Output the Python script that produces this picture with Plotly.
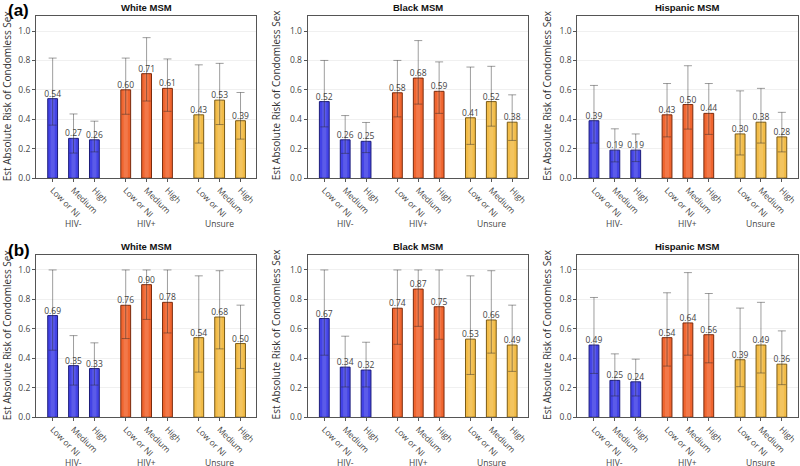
import plotly.graph_objects as go

# ---------------- data ----------------
levels = ["Low or NI", "Medium", "High"]
groups = ["HIV-", "HIV+", "Unsure"]
races = ["White MSM", "Black MSM", "Hispanic MSM"]
panels = ["(a)", "(b)"]

# panel (a)
a_white_est = [0.54, 0.27, 0.26, 0.60, 0.71, 0.61, 0.43, 0.53, 0.39]
a_white_lo  = [0.36, 0.17, 0.178, 0.434, 0.524, 0.454, 0.238, 0.364, 0.265]
a_white_hi  = [0.816, 0.436, 0.387, 0.816, 0.955, 0.81, 0.77, 0.78, 0.582]

a_black_est = [0.52, 0.26, 0.25, 0.58, 0.68, 0.59, 0.41, 0.52, 0.38]
a_black_lo  = [0.348, 0.168, 0.173, 0.416, 0.503, 0.44, 0.229, 0.353, 0.256]
a_black_hi  = [0.80, 0.425, 0.378, 0.80, 0.935, 0.79, 0.755, 0.76, 0.566]

a_hisp_est = [0.39, 0.19, 0.19, 0.43, 0.50, 0.44, 0.30, 0.38, 0.28]
a_hisp_lo  = [0.238, 0.11, 0.112, 0.28, 0.333, 0.297, 0.157, 0.238, 0.178]
a_hisp_hi  = [0.63, 0.335, 0.30, 0.643, 0.764, 0.643, 0.593, 0.61, 0.447]

# panel (b)
b_white_est = [0.69, 0.35, 0.33, 0.76, 0.90, 0.78, 0.54, 0.68, 0.50]
b_white_lo  = [0.455, 0.218, 0.218, 0.534, 0.664, 0.572, 0.306, 0.464, 0.331]
b_white_hi  = [1.0, 0.554, 0.505, 1.0, 1.0, 1.0, 0.96, 0.995, 0.761]

b_black_est = [0.67, 0.34, 0.32, 0.74, 0.87, 0.75, 0.53, 0.66, 0.49]
b_black_lo  = [0.421, 0.205, 0.205, 0.495, 0.617, 0.529, 0.29, 0.435, 0.311]
b_black_hi  = [1.0, 0.55, 0.509, 1.0, 1.0, 1.0, 0.96, 0.995, 0.761]

b_hisp_est = [0.49, 0.25, 0.24, 0.54, 0.64, 0.56, 0.39, 0.49, 0.36]
b_hisp_lo  = [0.297, 0.144, 0.144, 0.347, 0.421, 0.369, 0.207, 0.30, 0.221]
b_hisp_hi  = [0.813, 0.43, 0.394, 0.845, 0.982, 0.84, 0.741, 0.78, 0.586]

y_ticks = [0.0, 0.2, 0.4, 0.6, 0.8, 1.0]

panel_data = [
    [(a_white_est, a_white_lo, a_white_hi), (a_black_est, a_black_lo, a_black_hi), (a_hisp_est, a_hisp_lo, a_hisp_hi)],
    [(b_white_est, b_white_lo, b_white_hi), (b_black_est, b_black_lo, b_black_hi), (b_hisp_est, b_hisp_lo, b_hisp_hi)],
]

# ---------------- style ----------------
W, H = 800, 466
group_fill = ["#4343e6", "#f0652f", "#f2bc48"]
group_line = ["#1c1c7a", "#7a2a0c", "#7a5a14"]
txt_font = "Open Sans, DejaVu Sans, sans-serif"
title_font = "Liberation Sans, Arial, sans-serif"

# pixel layout
col_px = [(36, 256.5), (308, 528.5), (578, 798.5)]
row_px = [(16.5, 180.0), (258.0, 421.7)]
ytitle_px = [7, 276.5, 548.3]
letter_top_px = [0, 243]

xpos_all = [gi * 3.5 + li for gi in range(3) for li in range(3)]
tick_text = [lv for _ in groups for lv in levels]

fig = go.Figure()
layout = dict(
    width=W, height=H, margin=dict(l=0, r=0, t=0, b=0),
    paper_bgcolor="white", plot_bgcolor="white",
    showlegend=False, barmode="overlay", annotations=[],
)

k = 0
for r in range(2):
    for c in range(3):
        k += 1
        est, lo, hi = panel_data[r][c]
        xa = "x" if k == 1 else f"x{k}"
        ya = "y" if k == 1 else f"y{k}"
        for gi in range(3):
            sl = slice(gi * 3, gi * 3 + 3)
            e = est[sl]
            # main bar
            fig.add_trace(go.Bar(
                x=xpos_all[sl], y=e, width=0.47,
                marker=dict(color=group_fill[gi], line=dict(color=group_line[gi], width=1)),
                xaxis=xa, yaxis=ya, hoverinfo="skip",
            ))
            # soft highlight + labels + CI
            fig.add_trace(go.Bar(
                x=xpos_all[sl], y=e, width=0.2,
                marker=dict(color="rgba(255,255,255,0.13)", line=dict(width=0)),
                text=[f"{v:.2f}" for v in e], textposition="outside",
                constraintext="none",
                textfont=dict(family=txt_font, size=8.5, color="#444"),
                cliponaxis=False,
                error_y=dict(type="data", symmetric=False,
                             array=[h - v for h, v in zip(hi[sl], e)],
                             arrayminus=[v - l for v, l in zip(e, lo[sl])],
                             color="rgba(40,40,40,0.45)", thickness=1, width=4),
                xaxis=xa, yaxis=ya, hoverinfo="skip",
            ))
        x0, x1 = col_px[c]
        y0, y1 = row_px[r]
        axkey = "xaxis" if k == 1 else f"xaxis{k}"
        aykey = "yaxis" if k == 1 else f"yaxis{k}"
        layout[axkey] = dict(
            domain=[x0 / W, x1 / W], anchor=ya, range=[-0.8, 9.75],
            tickmode="array", tickvals=xpos_all, ticktext=tick_text,
            tickangle=45, ticks="outside", ticklen=3, tickcolor="#555",
            tickfont=dict(family=txt_font, size=8.5, color="#444"),
            showline=True, linecolor="#555", linewidth=1, mirror=True,
            showgrid=False, zeroline=False, fixedrange=True,
        )
        layout[aykey] = dict(
            domain=[1 - y1 / H, 1 - y0 / H], anchor=xa, range=[0, 1.1],
            tickmode="array", tickvals=y_ticks, ticktext=[f"{v:.1f}" for v in y_ticks],
            ticks="outside", ticklen=3, tickcolor="#555",
            tickfont=dict(family=txt_font, size=8.5, color="#444"),
            showline=True, linecolor="#555", linewidth=1, mirror=True,
            showgrid=True, gridcolor="#f0f0f0", gridwidth=1, zeroline=False,
            fixedrange=True,
        )
        # panel title
        layout["annotations"].append(dict(
            text=f"<b>{races[c]}</b>", xref="paper", yref="paper",
            x=(x0 + x1) / 2 / W, y=1 - (y0 - 9) / H, xanchor="center", yanchor="middle",
            showarrow=False, font=dict(family=title_font, size=9.5, color="#111")))
        # y-axis title
        layout["annotations"].append(dict(
            text="Est Absolute Risk of Condomless Sex", xref="paper", yref="paper",
            x=ytitle_px[c] / W, y=1 - ((y0 + y1) / 2 - 2) / H, textangle=-90,
            xanchor="center", yanchor="middle", showarrow=False,
            font=dict(family=txt_font, size=10, color="#333")))
        # group labels
        for gi, g in enumerate(groups):
            layout["annotations"].append(dict(
                text=g, xref=xa, yref="paper", x=gi * 3.5 + 1,
                y=1 - (y1 + 38) / H, xanchor="center", yanchor="top",
                showarrow=False, font=dict(family=txt_font, size=8.5, color="#444")))
    # panel letter
    layout["annotations"].append(dict(
        text=f"<b>{panels[r]}</b>", xref="paper", yref="paper",
        x=7 / W, y=1 - letter_top_px[r] / H, xanchor="left", yanchor="top",
        borderpad=0, showarrow=False,
        font=dict(family=title_font, size=17, color="#000")))

fig.update_layout(**layout)
fig.write_html("out.html", config={"displayModeBar": False},
               post_script="document.body.style.margin='0';document.body.style.overflow='hidden';")
